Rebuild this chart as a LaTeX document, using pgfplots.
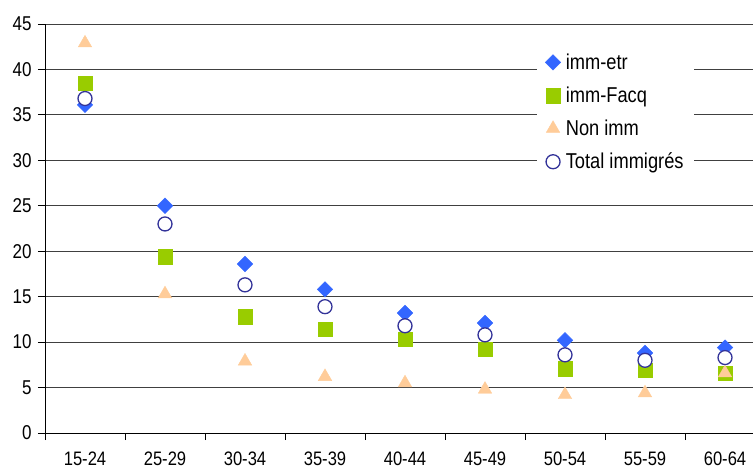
\documentclass[border=0pt]{standalone}
\usepackage{fontspec}
\setmainfont{Liberation Sans}[FakeStretch=0.85]
\usepackage{pgfplots}
\pgfplotsset{compat=1.18}
\definecolor{cetr}{HTML}{3366FF}
\definecolor{cfacq}{HTML}{99CC00}
\definecolor{cnon}{HTML}{FFCC99}
\definecolor{ctot}{HTML}{333399}
\begin{document}
\begin{tikzpicture}
\useasboundingbox (0,0) rectangle (753pt,475pt);
\begin{axis}[
  at={(45pt,42pt)}, anchor=south west,
  scale only axis, width=708pt, height=409pt,
  xmin=-0.5, xmax=8.35, ymin=0, ymax=45,
  axis x line=bottom, axis y line=left,
  axis line style={-, black, line width=0.8pt},
  clip=false,
  xtick={0,...,8},
  xticklabels={15-24,25-29,30-34,35-39,40-44,45-49,50-54,55-59,60-64},
  major x tick style={draw=none},
  minor xtick={-0.5,0.5,1.5,2.5,3.5,4.5,5.5,6.5,7.5},
  minor tick length=7pt, major tick length=7pt,
  tick align=outside,
  tick style={black, line width=0.8pt},
  ytick={0,5,...,45},
  ymajorgrids,
  grid style={black!75, line width=0.8pt},
  /pgf/number format/assume math mode=true,
  yticklabel style={font=\fontsize{20}{22}\selectfont, xshift=-3pt},
  xticklabel style={font=\fontsize{19.5}{22}\selectfont, yshift=-8pt},
  legend style={at={(rel axis cs:0.695,0.952)}, anchor=north west,
    draw=none, fill=white, font=\fontsize{21.5}{24}\selectfont,
    row sep=12pt, column sep=3pt, inner xsep=8pt, inner ysep=8pt},
  legend cell align=left,
]
\addplot[only marks, mark=square*, mark size=5.5pt, color=cetr,
  every mark/.append style={rotate=45}] coordinates {
  (0,36.1) (1,25.0) (2,18.6) (3,15.8) (4,13.2) (5,12.1) (6,10.2) (7,8.8) (8,9.4)};
\addlegendentry{imm-etr}
\addplot[only marks, mark=square*, mark size=7.3pt, color=cfacq] coordinates {
  (0,38.5) (1,19.4) (2,12.8) (3,11.4) (4,10.3) (5,9.2) (6,7.1) (7,6.9) (8,6.6)};
\addlegendentry{imm-Facq}
\addplot[only marks, mark=triangle*, mark size=7.8pt, color=cnon] coordinates {
  (0,42.9) (1,15.3) (2,7.9) (3,6.2) (4,5.5) (5,4.8) (6,4.2) (7,4.4) (8,6.6)};
\addlegendentry{Non imm}
\addplot[only marks, mark=*, mark size=7pt, draw=ctot, fill=white, line width=1.3pt] coordinates {
  (0,36.8) (1,23.0) (2,16.3) (3,13.9) (4,11.8) (5,10.8) (6,8.6) (7,8.0) (8,8.3)};
\addlegendentry{Total immigrés}
\end{axis}
\end{tikzpicture}
\end{document}
